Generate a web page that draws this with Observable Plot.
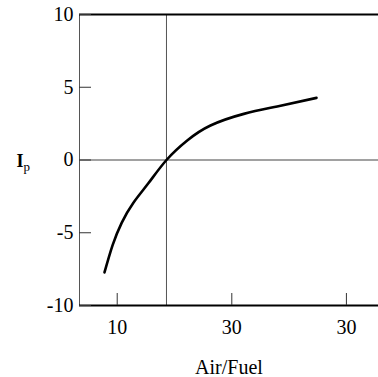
<!DOCTYPE html>
<html>
<head>
<meta charset="utf-8">
<script src="https://cdn.jsdelivr.net/npm/d3@7"></script>
<script src="https://cdn.jsdelivr.net/npm/@observablehq/plot@0.6"></script>
<style>
  html, body { margin: 0; padding: 0; background: #fff; }
  #chart svg { display: block; }
</style>
</head>
<body>
<div id="chart"></div>
<script>
// Curve data (Air/Fuel ratio vs pump current Ip)
const airFuel = [8.89, 9.6, 10.4, 11.4, 12.7, 14.3, 16.11, 18.14, 21.05, 23.96, 27.39];
const ipValues = [-7.73, -5.85, -4.3, -2.95, -1.62, 0, 1.34, 2.37, 3.17, 3.68, 4.27];

// Axes
const xDomain = [6.71, 32.8];
const yDomain = [-10, 10];
const xTicks = [10, 20, 30];
const xTickLabels = ["10", "30", "30"];
const yTicks = [-10, -5, 0, 5, 10];
const yTickLabels = ["-10", "-5", "0", "5", "10"];
const stoichiometric = [14.3];
const zeroLine = [0];

const data = airFuel.map((x, i) => ({x, y: ipValues[i]}));

const chart = Plot.plot({
  width: 378,
  height: 377,
  marginLeft: 79,
  marginRight: 0,
  marginTop: 14,
  marginBottom: 72,
  style: {fontFamily: "'Liberation Serif', 'Times New Roman', serif", fontSize: "20px", color: "#000", background: "#fff"},
  x: {domain: xDomain},
  y: {domain: yDomain},
  marks: [
    Plot.ruleX([xDomain[0]], {stroke: "#555", strokeWidth: 1}),
    Plot.ruleX(stoichiometric, {stroke: "#555", strokeWidth: 1}),
    Plot.ruleY(zeroLine, {stroke: "#444", strokeWidth: 1.2}),
    Plot.ruleY([yDomain[1]], {stroke: "#000", strokeWidth: 2}),
    Plot.ruleY([yDomain[0]], {stroke: "#000", strokeWidth: 2}),
    Plot.axisY({
      ticks: yTicks,
      tickFormat: (d) => yTickLabels[yTicks.indexOf(d)],
      tickSize: -12,
      tickPadding: 18,
      label: null,
      stroke: "#333"
    }),
    Plot.axisX({
      ticks: xTicks,
      tickFormat: (d) => xTickLabels[xTicks.indexOf(d)],
      tickSize: -12,
      tickPadding: 26,
      label: "Air/Fuel",
      labelAnchor: "center",
      labelArrow: "none",
      labelOffset: 68,
      stroke: "#333"
    }),
    Plot.line(data, {x: "x", y: "y", curve: "natural", stroke: "#000", strokeWidth: 2.6}),
    Plot.text(["I"], {frameAnchor: "left", y: zeroLine, dx: -63, dy: 1, text: (d) => d, fontSize: 18, fontWeight: "bold", textAnchor: "start"})
  ]
});

document.getElementById("chart").appendChild(chart);

// add subscript "p" to the Ip label
d3.select(chart).selectAll("text").filter(function() { return this.textContent === "I"; })
  .each(function() {
    const t = d3.select(this);
    t.append("tspan").attr("font-size", 13).attr("font-weight", "normal").attr("dy", "0.3em").text("p");
  });
</script>
</body>
</html>
